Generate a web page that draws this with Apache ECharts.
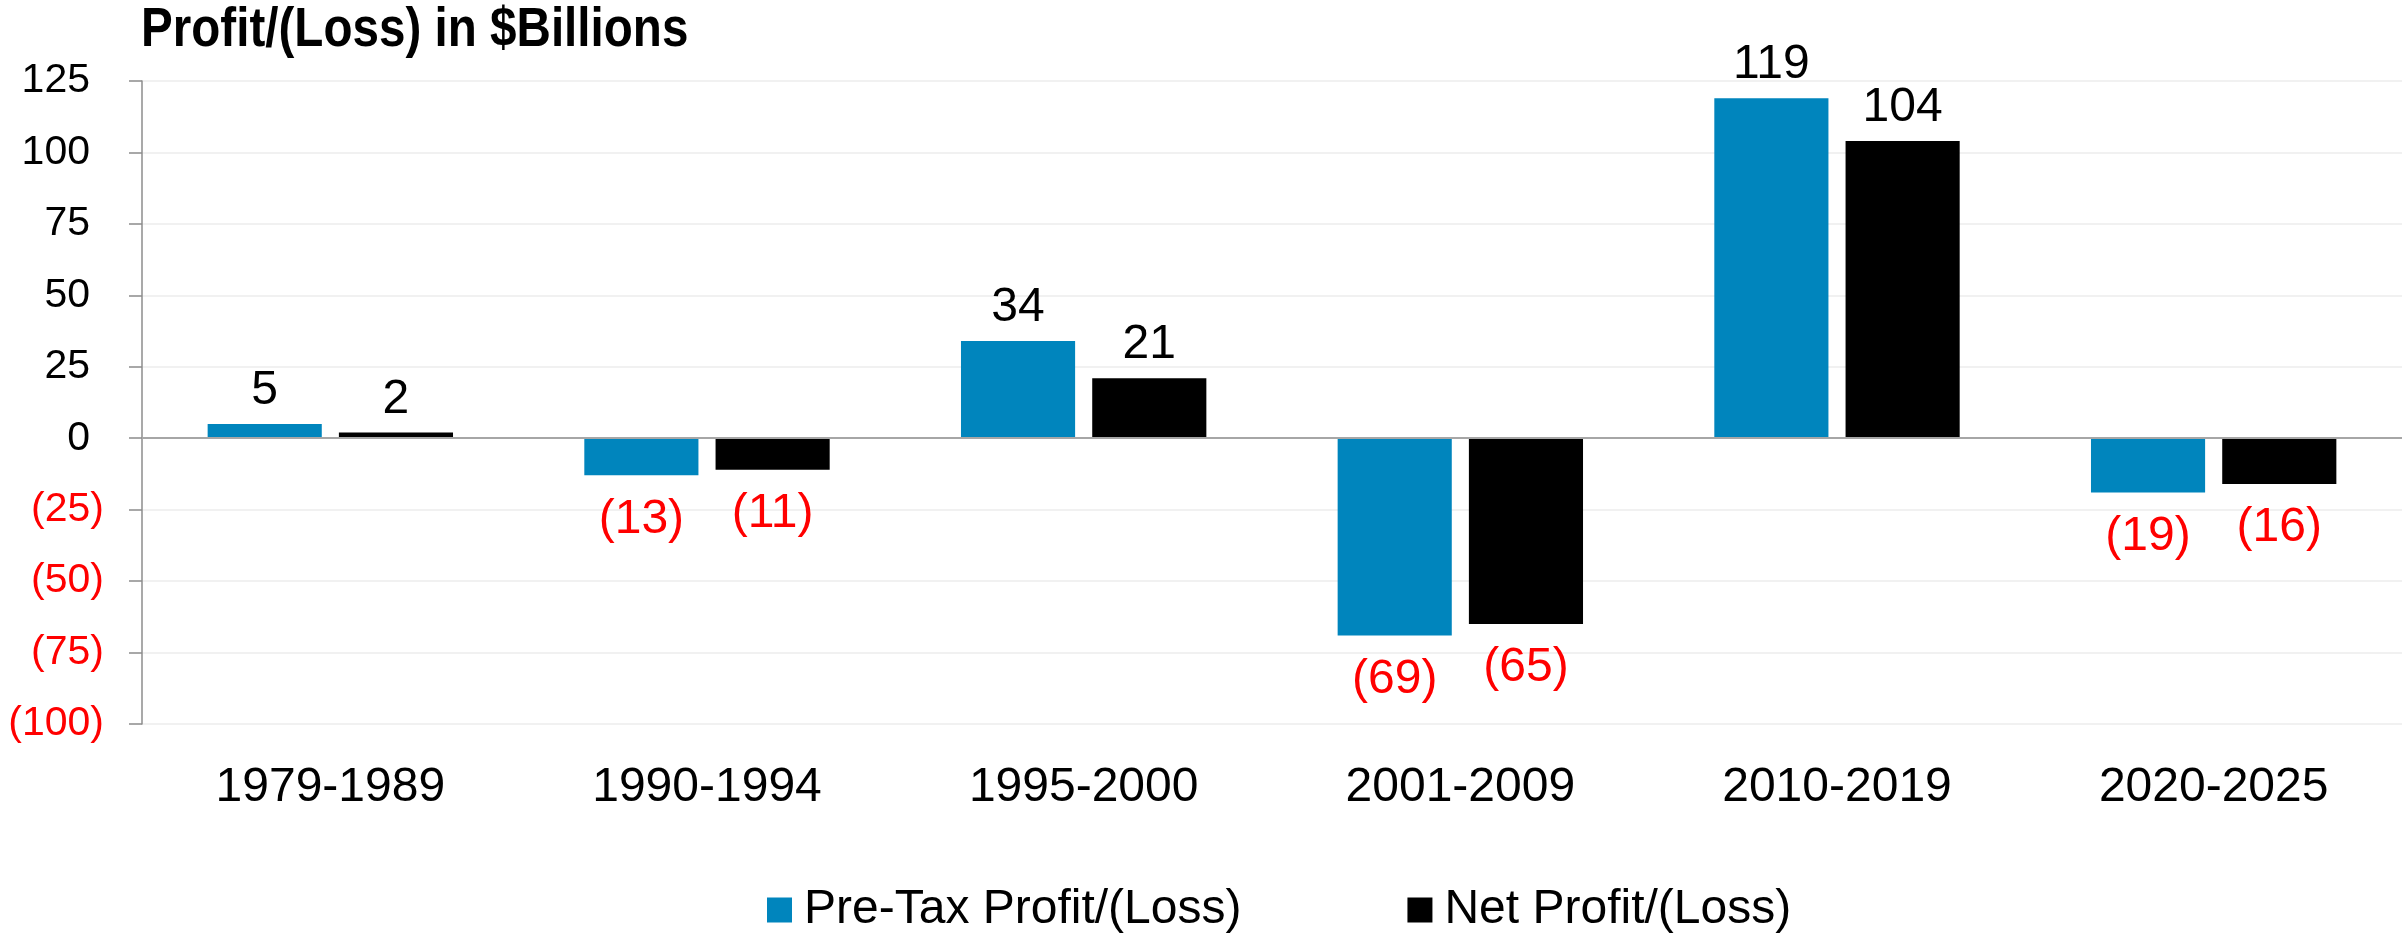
<!DOCTYPE html>
<html>
<head>
<meta charset="utf-8">
<title>Profit/(Loss) in $Billions</title>
<script src="https://cdn.jsdelivr.net/npm/echarts@6/dist/echarts.min.js"></script>
<style>
  html, body { margin: 0; padding: 0; background: #ffffff; }
  #chart { width: 2407px; height: 936px; }
</style>
</head>
<body>
<div id="chart"></div>
<script>
// Period buckets and results in $ billions
const categories = ['1979-1989', '1990-1994', '1995-2000', '2001-2009', '2010-2019', '2020-2025'];
const preTaxProfit = [5, -13, 34, -69, 119, -19];
const netProfit = [2, -11, 21, -65, 104, -16];
const seriesNames = ['Pre-Tax Profit/(Loss)', 'Net Profit/(Loss)'];
const titleText = 'Profit/(Loss) in $Billions';

const FONT = 'Liberation Sans, Arial, Helvetica, sans-serif';
const RED = '#FF0000';

// Accounting style: losses shown in parentheses
function fmt(v) {
  return v < 0 ? '(' + Math.abs(v) + ')' : String(v);
}

// Positive results get a black label above the bar, losses a red label below
function toItems(values) {
  return values.map(function (v) {
    return {
      value: v,
      label: {
        position: v < 0 ? 'bottom' : 'top',
        distance: v < 0 ? 20 : 9,
        color: v < 0 ? RED : '#000000'
      }
    };
  });
}

const barLabel = {
  show: true,
  fontFamily: FONT,
  fontSize: 48,
  formatter: function (p) { return fmt(p.value); }
};

const chart = echarts.init(document.getElementById('chart'), null, { renderer: 'canvas' });

chart.setOption({
  animation: false,
  backgroundColor: '#ffffff',
  graphic: [{
    type: 'text',
    x: 141,
    y: 31,
    scaleX: 0.85,
    style: {
      text: titleText,
      fontFamily: FONT,
      fontWeight: 'bold',
      fontSize: 56,
      fill: '#000000',
      verticalAlign: 'middle',
      align: 'left'
    }
  }],
  grid: { left: 142, right: 5, top: 81, bottom: 212, containLabel: false },
  legend: {
    data: seriesNames,
    left: 767,
    top: 886,
    padding: 0,
    icon: 'rect',
    itemWidth: 25,
    itemHeight: 25,
    itemGap: 166,
    textStyle: { fontFamily: FONT, fontSize: 48, color: '#000000', padding: [0, 0, 0, 7] }
  },
  xAxis: {
    type: 'category',
    data: categories,
    position: 'bottom',
    axisLine: { show: false, onZero: false },
    axisTick: { show: false },
    splitLine: { show: false },
    axisLabel: { margin: 40, fontFamily: FONT, fontSize: 48, color: '#000000' }
  },
  yAxis: {
    type: 'value',
    min: -100,
    max: 125,
    interval: 25,
    axisLine: { show: true, lineStyle: { color: '#8C8C8C', width: 1.5 } },
    axisTick: { show: true, inside: false, length: 13, lineStyle: { color: '#8C8C8C', width: 1.5 } },
    splitLine: { show: true, lineStyle: { color: '#ECECEC', width: 1.5 } },
    axisLabel: {
      margin: 38,
      fontFamily: FONT,
      fontSize: 41,
      // non-negative values keep a gap the width of ")" so digits line up
      formatter: function (v) {
        return v < 0 ? '{neg|' + fmt(v) + '}' : '{pos|' + fmt(v) + '}';
      },
      rich: {
        neg: { fontFamily: FONT, fontSize: 41, color: RED },
        pos: { fontFamily: FONT, fontSize: 41, color: '#000000', padding: [0, 14, 0, 0] }
      }
    }
  },
  series: [
    {
      name: seriesNames[0],
      type: 'bar',
      data: toItems(preTaxProfit),
      barWidth: '30.3%',
      barGap: '15%',
      itemStyle: { color: '#0085BD' },
      label: barLabel,
      markLine: {
        silent: true,
        symbol: ['none', 'none'],
        label: { show: false },
        lineStyle: { color: '#A6A6A6', width: 2, type: 'solid' },
        data: [{ yAxis: 0 }]
      }
    },
    {
      name: seriesNames[1],
      type: 'bar',
      data: toItems(netProfit),
      barWidth: '30.3%',
      barGap: '15%',
      itemStyle: { color: '#000000' },
      label: barLabel
    }
  ]
});
</script>
</body>
</html>
